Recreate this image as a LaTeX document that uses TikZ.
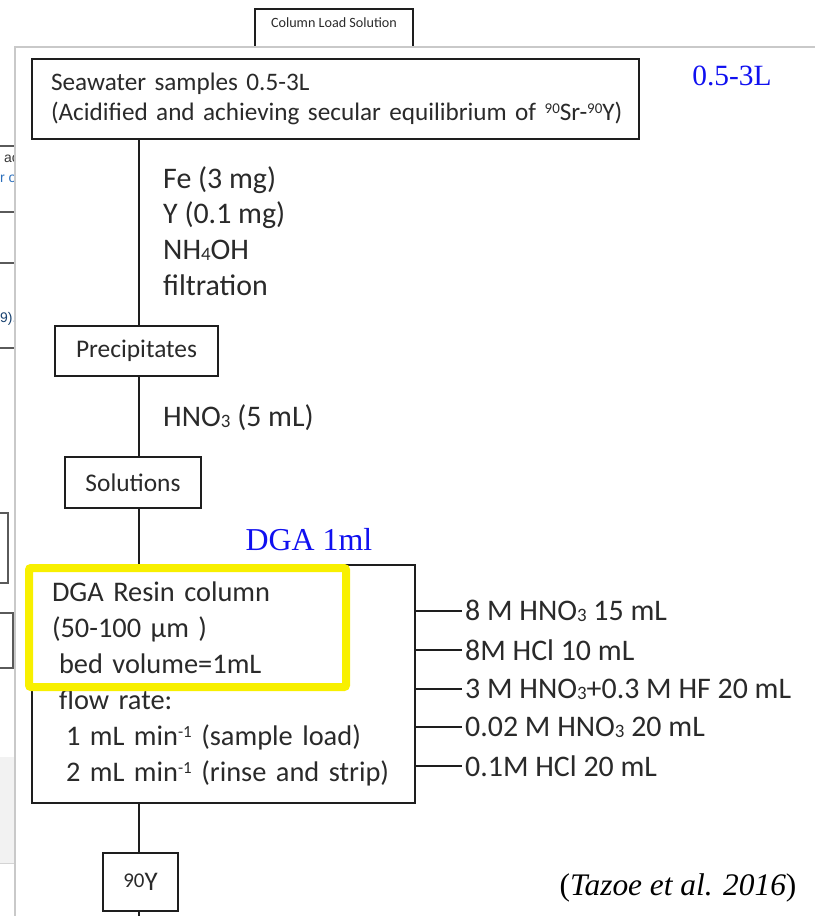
\documentclass[tikz,border=0pt]{standalone}
\usepackage{fontspec}
\setmainfont{Carlito}
\newfontfamily\timesfont{Liberation Serif}
\newfontfamily\uifont{Liberation Sans}

\definecolor{ink}{HTML}{2A2A2A}
\definecolor{rule}{HTML}{1E1E1E}
\definecolor{panel}{HTML}{C9C9C9}
\definecolor{fragline}{HTML}{5A5A5A}
\definecolor{fragblue}{HTML}{2A6EBB}
\definecolor{hilite}{HTML}{F8F000}
\definecolor{notes}{HTML}{1010F0}

% small lowered / raised figures used in the formulas
\newcommand\lsub[1]{\raisebox{-1bp}{\fontsize{19}{19}\selectfont #1}}
\newcommand\usup[1]{\raisebox{8bp}{\fontsize{17}{17}\selectfont #1}}
\newcommand\isosup[1]{\raisebox{7bp}{\fontsize{15}{15}\selectfont #1}}

\begin{document}
\begin{tikzpicture}[x=1bp,y=-1bp,
  every node/.style={text=ink},
  boxnode/.style={draw=rule, line width=2bp, anchor=north west, inner sep=0pt,
                  font=\fontsize{25.5}{30}\selectfont},
  steptext/.style={anchor=west, inner sep=0pt, font=\fontsize{30}{36}\selectfont, align=left},
  elutext/.style={anchor=west, inner sep=0pt, font=\fontsize{30}{30}\selectfont},
  wire/.style={draw=rule, line width=2bp},
  frag/.style={draw=fragline, line width=1.2bp},
  note/.style={text=notes, inner sep=0pt, font=\timesfont\fontsize{29.5}{29.5}\selectfont},
]
\useasboundingbox (0,0) rectangle (815,916);

% ---- surrounding page fragments ----
\fill[gray!10] (0,757) rectangle (15,863);
\draw[panel!80, line width=1bp] (0,863) -- (15,863);
\foreach \yy in {146,212,263,348} \draw[frag] (0,\yy) -- (15,\yy);
\draw[frag] (-5,513) -- (8,513) -- (8,583) -- (-5,583);
\draw[frag] (-5,613) -- (13,613) -- (13,668) -- (-5,668);
\node[anchor=west, inner sep=0pt, font=\uifont\fontsize{14}{14}\selectfont, text=fragline!60!black] (fragA) at (4,159) {ac};
\node[anchor=west, inner sep=0pt, font=\uifont\fontsize{14}{14}\selectfont, text=fragblue] (fragB) at (0,179) {r o};
\node[anchor=west, inner sep=0pt, font=\uifont\fontsize{14}{14}\selectfont, text=fragblue!60!black] (fragC) at (0,319) {9).};
\fill[white] (15,47) rectangle (815,916);

% Column Load Solution box, partly behind the panel
\draw[rule, line width=1.3bp] (255,47) -- (255,9) -- (413,9) -- (413,47);
\node[inner sep=0pt, font=\fontsize{14.2}{15}\selectfont] (cls) at (334,23) {Column Load Solution};

% panel edge
\draw[panel, line width=2bp] (15,916) -- (15,47) -- (815,47);

% ---- flow chart ----
\coordinate (trunk) at (139,0);

\node[boxnode, minimum width=607bp, minimum height=80bp, text width=585bp, inner xsep=11bp,
      align=left, font=\fontsize{25.3}{30}\selectfont]
  (sea) at (31,58)
  {\mbox{\hspace*{8bp}Seawater samples 0.5-3L}\\
   \mbox{\hspace*{8bp}(Acidified and achieving secular equilibrium of \isosup{90}Sr-\isosup{90}Y)}};

\node[boxnode, minimum width=163bp, minimum height=50bp] (pre) at (54,325) {Precipitates};
\node[boxnode, minimum width=136bp, minimum height=51bp] (sol) at (64,456) {Solutions};

\node[boxnode, minimum width=383bp, minimum height=238bp, text width=343bp, inner xsep=20bp,
      align=left, font=\fontsize{28.5}{36.2}\selectfont] (dga) at (31,564)
  {DGA Resin column\\
   (50-100 µm )\\
   \hspace*{7bp}bed volume=1mL\\
   \hspace*{7bp}flow rate:\\
   \hspace*{14bp}1 mL min\usup{-1} (sample load)\\
   \hspace*{14bp}2 mL min\usup{-1} (rinse and strip)};

\node[boxnode, minimum width=75bp, minimum height=58bp, font=\fontsize{27}{28}\selectfont]
  (yttrium) at (102,852) {\raisebox{3bp}{\fontsize{21}{21}\selectfont 90}Y};

% reagents along the trunk
\node[steptext] (reag1) at (163,231)
  {Fe (3 mg)\\Y (0.1 mg)\\NH\lsub{4}OH\\filtration};
\node[steptext] (reag2) at (163,418) {HNO\lsub{3} (5 mL)};

% trunk segments
\draw[wire] (sea.south -| trunk) -- (pre.north -| trunk);
\draw[wire] (pre.south -| trunk) -- (sol.north -| trunk);
\draw[wire] (sol.south -| trunk) -- (dga.north -| trunk);
\draw[wire] (dga.south -| trunk) -- (yttrium.north -| trunk);
\coordinate (tail) at (139,916);
\draw[wire] (yttrium.south -| trunk) -- (tail);

% eluents leaving the column
\node[elutext] (e1) at (465,611) {8 M HNO\lsub{3} 15 mL};
\node[elutext] (e2) at (465,650) {8M HCl 10 mL};
\node[elutext] (e3) at (465,689) {3 M HNO\lsub{3}+0.3 M HF 20 mL};
\node[elutext] (e4) at (465,727) {0.02 M HNO\lsub{3} 20 mL};
\node[elutext] (e5) at (465,766) {0.1M HCl 20 mL};
\foreach \e in {e1,e2,e3,e4,e5}
  \draw[rule, line width=1.4bp] (dga.east |- \e.west) -- ([xshift=-3bp]\e.west);

% highlight over the column description
\draw[hilite, line width=8bp, rounded corners=2bp] (29,568) rectangle (346,687);

% annotations
\node[note] (vol) at (732,76) {0.5-3L};
\node[note, font=\timesfont\fontsize{32}{32}\selectfont] (bed) at (309,540) {DGA 1ml};
\node[inner sep=0pt, text=black, font=\timesfont\fontsize{31.5}{31.5}\selectfont] (ref) at (678,888)
  {(\textit{Tazoe et al. 2016})};
\end{tikzpicture}
\end{document}
